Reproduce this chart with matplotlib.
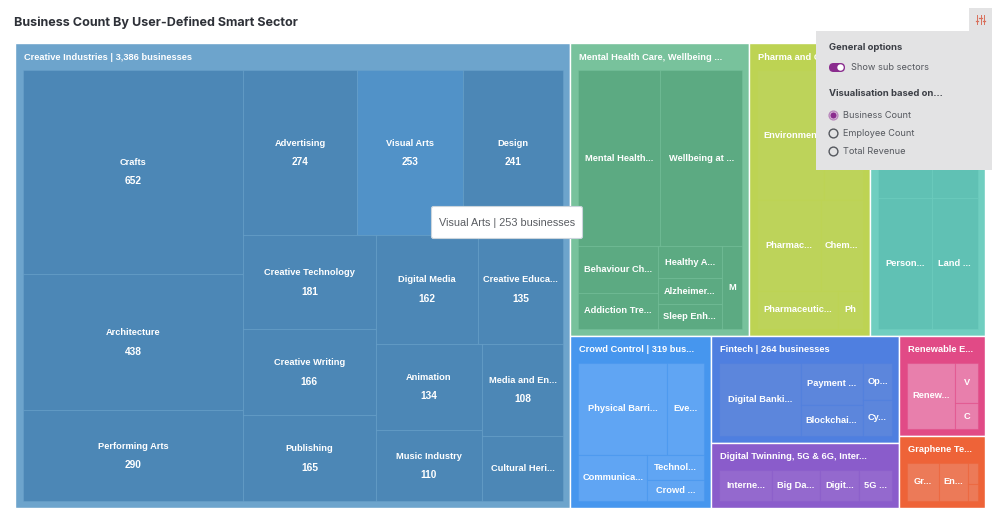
import matplotlib
matplotlib.use('Agg')
import matplotlib.pyplot as plt
from matplotlib.colors import to_rgba
from matplotlib.patches import Rectangle, FancyBboxPatch, Circle

title = 'Business Count By User-Defined Smart Sector'

# sector titles, '' where the options panel hides it
sector_titles = ['Creative Industries | 3,386 businesses', 'Mental Health Care, Wellbeing ...',
                 'Pharma and Chemicals', '', 'Crowd Control | 319 bus...',
                 'Fintech | 264 businesses', 'Digital Twinning, 5G & 6G, Inter...',
                 'Renewable E...', 'Graphene Te...']

creative_names = ['Crafts', 'Architecture', 'Performing Arts', 'Advertising', 'Visual Arts', 'Design',
                  'Creative Technology', 'Creative Writing', 'Publishing', 'Digital Media',
                  'Creative Educa...', 'Animation', 'Music Industry', 'Media and En...', 'Cultural Heri...']
creative_values = [652, 438, 290, 274, 253, 241, 181, 166, 165, 162, 135, 134, 110, 108, 77]

mental_names = ['Mental Health...', 'Wellbeing at ...', 'Behaviour Ch...', 'Addiction Tre...',
                'Healthy A...', 'Alzheimer...', 'Sleep Enh...', 'M']
mental_values = [234, 234, 60, 46, 33, 27, 25, 27]

# second tile sits behind the options panel
pharma_names = ['Environmen', '', 'Pharmac...', 'Chem...', 'Pharmaceutic...', 'Ph']
pharma_values = [147, 87, 97, 65, 52, 16]

teal_names = ['', '', 'Person...', 'Land ...']
teal_values = [118, 101, 119, 103]

crowd_names = ['Physical Barri...', 'Eve...', 'Communica...', 'Technol...', 'Crowd ...']
crowd_values = [150, 63, 58, 26, 22]

fintech_names = ['Digital Banki...', 'Payment ...', 'Blockchai...', 'Op...', 'Cy...']
fintech_values = [124, 55, 40, 23, 22]

twin_names = ['Interne...', 'Big Da...', 'Digit...', '5G ...']
twin_values = [49, 45, 36, 31]

renew_names = ['Renew...', 'V', 'C']
renew_values = [77, 22, 14]

graphene_names = ['Gr...', 'En...', '', '']
graphene_values = [36, 34, 6, 5]

sector_names = [creative_names, mental_names, pharma_names, teal_names, crowd_names,
                fintech_names, twin_names, renew_names, graphene_names]
sector_values = [creative_values, mental_values, pharma_values, teal_values, crowd_values,
                 fintech_values, twin_values, renew_values, graphene_values]

parent_colors = ['#6DA4CC', '#78C29C', '#BDD353', '#70CEC0', '#4696EE', '#4F7FE0', '#8A5CCB', '#E14A86', '#EE6338']
tile_colors = ['#4C87B6', '#5CAA82', '#BDD35A', '#60C1B4', '#60A5F3', '#5C86DC', '#9469CE', '#E87FAC', '#EC7A58']
hover_color = '#5192C8'

# how each treemap is sliced: 'h' = side by side, 'v' = stacked
top_split = ('h', [0, ('v', [('h', [1, 2, 3]),
                             ('h', [4, ('v', [5, 6]), ('v', [7, 8])])])])
sector_splits = [
    ('h', [('v', [0, 1, 2]),
           ('v', [('h', [3, 4, 5]),
                  ('h', [('v', [6, 7, 8]),
                         ('v', [('h', [9, 10]),
                                ('h', [('v', [11, 12]), ('v', [13, 14])])])])])]),
    ('v', [('h', [0, 1]), ('h', [('v', [2, 3]), ('v', [4, 5, 6]), 7])]),
    ('v', [('h', [0, 1]), ('h', [2, 3]), ('h', [4, 5])]),
    ('v', [('h', [0, 1]), ('h', [2, 3])]),
    ('v', [('h', [0, 1]), ('h', [2, ('v', [3, 4])])]),
    ('h', [0, ('v', [1, 2]), ('v', [3, 4])]),
    ('h', [0, 1, 2, 3]),
    ('h', [0, ('v', [1, 2])]),
    ('h', [0, 1, ('v', [2, 3])]),
]


def total(node, values):
    if isinstance(node, int):
        return values[node]
    return sum(total(c, values) for c in node[1])


def layout(node, values, x, y, w, h, out):
    if isinstance(node, int):
        out[node] = (x, y, w, h)
        return
    whole = total(node, values)
    for c in node[1]:
        part = total(c, values) / whole
        if node[0] == 'h':
            layout(c, values, x, y, w * part, h, out)
            x += w * part
        else:
            layout(c, values, x, y, w, h * part, out)
            y += h * part


label_font = ['Liberation Sans', 'DejaVu Sans']
fig = plt.figure(figsize=(10, 5.24), dpi=100)
ax = fig.add_axes([0, 0, 1, 1])
ax.set_xlim(0, 1000)
ax.set_ylim(524, 0)
ax.axis('off')

ax.text(14, 22.5, title, fontsize=9.05, fontweight='bold', family=['Inter', 'DejaVu Sans'],
        color='#2E3138', va='center')

sector_totals = [sum(v) for v in sector_values]
sector_rects = {}
layout(top_split, sector_totals, 15, 43, 970, 465, sector_rects)

for i in range(len(sector_titles)):
    x, y, w, h = sector_rects[i]
    ax.add_patch(Rectangle((x, y), w, h, fc=parent_colors[i], ec='white', lw=1, zorder=1))
    ax.text(x + 8.5, y + 14, sector_titles[i], color='white', fontsize=6.7, fontweight='bold',
            family=label_font, va='center', zorder=4)
    tiles = {}
    layout(sector_splits[i], sector_values[i], x + 8, y + 27, w - 15, h - 34, tiles)
    for j, name in enumerate(sector_names[i]):
        tx, ty, tw, th = tiles[j]
        fc = tile_colors[i]
        if name == 'Visual Arts':
            fc = hover_color
        ax.add_patch(Rectangle((tx, ty), tw, th, fc=fc, ec=to_rgba(parent_colors[i], 0.45), lw=0.8, zorder=2))
        cx, cy = tx + tw / 2, ty + th / 2
        if i == 0 and sector_values[i][j] >= 100:
            ax.text(cx, cy - 9.5, name, color='white', fontsize=6.7, fontweight='bold',
                    family=label_font, ha='center', va='center', zorder=4)
            ax.text(cx, cy + 9.5, str(sector_values[i][j]), color='white', fontsize=7.3, fontweight='bold',
                    family=label_font, ha='center', va='center', zorder=4)
        else:
            ax.text(cx, cy, name, color='white', fontsize=6.7, fontweight='bold',
                    family=label_font, ha='center', va='center', zorder=4)

# tooltip
ax.add_patch(FancyBboxPatch((431.5, 206.5), 151, 32, boxstyle='round,pad=0,rounding_size=2', fc='white',
                            ec='#CBD5DC', lw=0.8, zorder=5))
ax.text(507.5, 222.5, 'Visual Arts | 253 businesses', color='#5A5D62', fontsize=7.85,
        family=label_font, ha='center', va='center', zorder=6)

# options panel
panel = '#E3E3E4'
ui_font = ['Inter', 'DejaVu Sans']
ax.add_patch(Rectangle((816, 31), 176, 139, fc=panel, ec='none', zorder=7))
ax.add_patch(Rectangle((969, 8), 23, 24, fc=panel, ec='none', zorder=7))
for sx, sy in [(977, 21), (980.5, 18), (984, 21)]:
    ax.plot([sx, sx], [15, 24], color='#D9705C', lw=0.7, zorder=8)
    ax.plot([sx - 1.1, sx + 1.1], [sy, sy], color='#D9705C', lw=0.9, zorder=8)

ax.text(829, 47, 'General options', color='#3C3F46', fontsize=6.8, fontweight='bold',
        family=ui_font, va='center', zorder=8)
ax.add_patch(FancyBboxPatch((829, 63), 16, 9, boxstyle='round,pad=0,rounding_size=4.5', fc='#8A2C8E',
                            ec='none', zorder=8))
ax.add_patch(Circle((840.5, 67.5), 3.2, fc='white', ec='none', zorder=9))
ax.text(851, 67.5, 'Show sub sectors', color='#55585E', fontsize=6.6, family=ui_font, va='center', zorder=8)
ax.text(829, 94, 'Visualisation based on...', color='#3C3F46', fontsize=6.8, fontweight='bold',
        family=ui_font, va='center', zorder=8)

radio_labels = ['Business Count', 'Employee Count', 'Total Revenue']
radio_y = [115.5, 133.5, 151.5]
for k in range(3):
    ax.add_patch(Circle((833.5, radio_y[k]), 4.4, fc=panel if k else '#E9D5EA',
                        ec='#55585E' if k else '#B988BC', lw=1, zorder=8))
    if k == 0:
        ax.add_patch(Circle((833.5, radio_y[k]), 3.1, fc='#8A2C8E', ec='none', zorder=9))
    ax.text(843, radio_y[k], radio_labels[k], color='#55585E', fontsize=6.6, family=ui_font,
            va='center', zorder=8)

plt.savefig('out.png', dpi=100)
